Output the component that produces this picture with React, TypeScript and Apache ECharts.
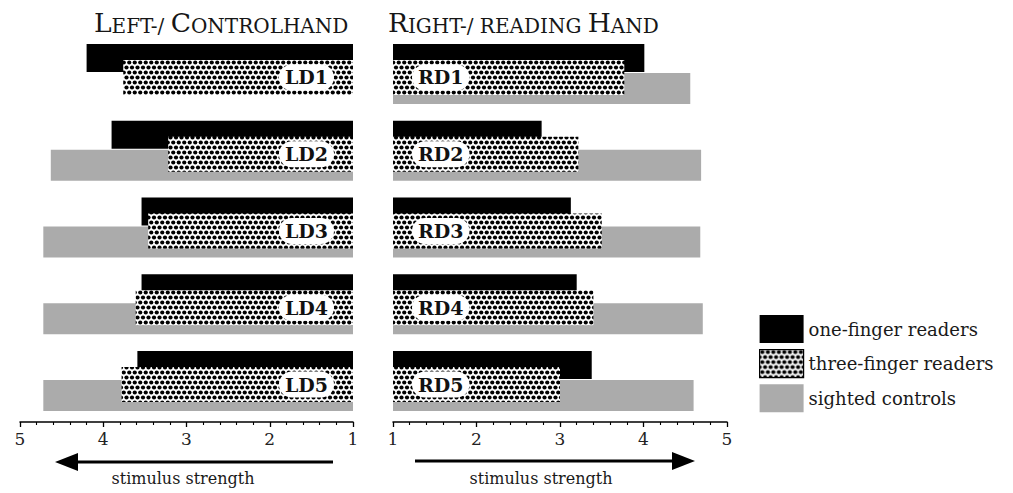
import React, { useEffect, useRef } from "react";
import * as echarts from "echarts";

// ---- data ----
const rows = ["1", "2", "3", "4", "5"];
const leftLabels = ["LD1", "LD2", "LD3", "LD4", "LD5"];
const rightLabels = ["RD1", "RD2", "RD3", "RD4", "RD5"];
const seriesNames = ["one-finger readers", "three-finger readers", "sighted controls"];

const leftOneFinger = [4.2, 3.9, 3.54, 3.54, 3.59];
const leftThreeFinger = [3.76, 3.22, 3.46, 3.61, 3.78];
const leftSighted: (number | string)[] = ["-", 4.63, 4.72, 4.72, 4.72];

const rightOneFinger = [4.01, 2.78, 3.13, 3.2, 3.38];
const rightThreeFinger = [3.77, 3.22, 3.5, 3.4, 3.0];
const rightSighted = [4.56, 4.69, 4.68, 4.71, 4.6];

const axisMin = 1;
const axisMax = 5;
const axisInterval = 1;

const FONT = "DejaVu Serif";

const dotSvg =
  '<svg xmlns="http://www.w3.org/2000/svg" width="11" height="10">' +
  '<rect width="11" height="10" fill="#fff"/>' +
  '<g fill="#000">' +
  '<circle cx="2.75" cy="2.5" r="2.1"/><circle cx="8.25" cy="2.5" r="2.1"/>' +
  '<circle cx="0" cy="7.5" r="2.1"/><circle cx="5.5" cy="7.5" r="2.1"/><circle cx="11" cy="7.5" r="2.1"/>' +
  "</g></svg>";

const dotPattern: any = {
  image: "data:image/svg+xml;charset=utf-8," + encodeURIComponent(dotSvg),
  repeat: "repeat",
  imageWidth: 11,
  imageHeight: 10,
};

const BLACK = "#000000";
const GRAY = "#ababab";

export default function App() {
  const ref = useRef<HTMLDivElement>(null);

  useEffect(() => {
    if (!ref.current) return;
    const chart = echarts.init(ref.current, undefined, { renderer: "svg" });

    const gridH = 383.8;
    const mainTop = 35.6;
    const patTop = 39.1;

    const visibleXAxis = (gridIndex: number) => ({
      type: "value",
      gridIndex,
      min: axisMin,
      max: axisMax,
      interval: axisInterval,
      startValue: axisMin,
      inverse: gridIndex === 0,
      offset: 2.6,
      axisLine: { show: true, lineStyle: { color: "#000", width: 1.5 } },
      axisTick: { show: true, length: 5, lineStyle: { color: "#000", width: 1.3 } },
      minorTick: { show: true, splitNumber: 5, length: 3, lineStyle: { color: "#000", width: 1.1 } },
      splitLine: { show: false },
      minorSplitLine: { show: false },
      axisLabel: {
        show: true,
        fontFamily: FONT,
        fontSize: 17,
        color: "#222",
        margin: 8,
        showMinLabel: true,
        showMaxLabel: true,
      },
    });

    const hiddenXAxis = (gridIndex: number, inverse: boolean) => ({
      type: "value",
      gridIndex,
      min: axisMin,
      max: axisMax,
      interval: axisInterval,
      startValue: axisMin,
      inverse,
      show: false,
    });

    const yAxis = (gridIndex: number) => ({
      type: "category",
      gridIndex,
      data: rows,
      inverse: true,
      show: false,
    });

    const labelStyle = {
      show: true,
      fontFamily: FONT,
      fontWeight: "bold",
      fontSize: 19,
      color: "#111",
      backgroundColor: "#fff",
      borderRadius: 15,
      padding: [4, 6, 3, 6],
    };

    const titleRich = {
      b: { fontFamily: FONT, fontSize: 26.5, fontWeight: "normal", color: "#161616", verticalAlign: "bottom" },
      s: { fontFamily: FONT, fontSize: 20, fontWeight: "normal", color: "#161616", verticalAlign: "bottom" },
    };

    const option: any = {
      animation: false,
      backgroundColor: "#fff",
      title: [
        {
          left: 89,
          top: 4,
          text: "{b|L}{s|EFT-/ }{b|C}{s|ONTROLHAND}",
          textStyle: { fontWeight: "normal", rich: titleRich },
        },
        {
          left: 383,
          top: 4,
          text: "{b|R}{s|IGHT-/ READING }{b|H}{s|AND}",
          textStyle: { fontWeight: "normal", rich: titleRich },
        },
      ],
      legend: {
        orient: "vertical",
        left: 754,
        top: 310,
        itemWidth: 44,
        itemHeight: 28,
        itemGap: 6,
        icon: "rect",
        selectedMode: false,
        textStyle: { fontFamily: FONT, fontSize: 18, color: "#1a1a1a" },
        data: [
          { name: seriesNames[0] },
          { name: seriesNames[1], itemStyle: { borderColor: "#000", borderWidth: 1.2 } },
          { name: seriesNames[2] },
        ],
      },
      grid: [
        { left: 20, width: 333, top: mainTop, height: gridH },
        { left: 20, width: 333, top: patTop, height: gridH },
        { left: 393, width: 334, top: mainTop, height: gridH },
        { left: 393, width: 334, top: patTop, height: gridH },
      ],
      xAxis: [
        visibleXAxis(0),
        hiddenXAxis(1, true),
        { ...visibleXAxis(2), inverse: false },
        hiddenXAxis(3, false),
      ],
      yAxis: [yAxis(0), yAxis(1), yAxis(2), yAxis(3)],
      series: [
        // left panel
        {
          name: seriesNames[0],
          type: "bar",
          xAxisIndex: 0,
          yAxisIndex: 0,
          data: leftOneFinger,
          barWidth: 28,
          barGap: "3.6%",
          itemStyle: { color: BLACK },
          z: 2,
        },
        {
          name: seriesNames[2],
          type: "bar",
          xAxisIndex: 0,
          yAxisIndex: 0,
          data: leftSighted,
          barWidth: 31,
          barGap: "3.6%",
          itemStyle: { color: GRAY },
          z: 2,
        },
        {
          name: seriesNames[1],
          type: "bar",
          xAxisIndex: 1,
          yAxisIndex: 1,
          data: leftThreeFinger,
          barWidth: 35,
          itemStyle: { color: dotPattern },
          z: 3,
          label: {
            ...labelStyle,
            position: "insideRight",
            distance: 19,
            formatter: (p: any) => leftLabels[p.dataIndex],
          },
        },
        // right panel
        {
          name: seriesNames[0],
          type: "bar",
          xAxisIndex: 2,
          yAxisIndex: 2,
          data: rightOneFinger,
          barWidth: 28,
          barGap: "3.6%",
          itemStyle: { color: BLACK },
          z: 2,
        },
        {
          name: seriesNames[2],
          type: "bar",
          xAxisIndex: 2,
          yAxisIndex: 2,
          data: rightSighted,
          barWidth: 31,
          barGap: "3.6%",
          itemStyle: { color: GRAY },
          z: 2,
        },
        {
          name: seriesNames[1],
          type: "bar",
          xAxisIndex: 3,
          yAxisIndex: 3,
          data: rightThreeFinger,
          barWidth: 35,
          itemStyle: { color: dotPattern },
          z: 3,
          label: {
            ...labelStyle,
            position: "insideLeft",
            distance: 19,
            formatter: (p: any) => rightLabels[p.dataIndex],
          },
        },
      ],
      graphic: [
        // left arrow
        {
          type: "line",
          shape: { x1: 333, y1: 462, x2: 72, y2: 462 },
          style: { stroke: "#000", lineWidth: 3 },
        },
        {
          type: "polygon",
          shape: { points: [[55, 462], [78, 453], [78, 471]] },
          style: { fill: "#000" },
        },
        {
          type: "text",
          x: 183,
          y: 478,
          style: {
            text: "stimulus strength",
            font: `16px "${FONT}"`,
            fill: "#1a1a1a",
            align: "center",
            verticalAlign: "middle",
          },
        },
        // right arrow
        {
          type: "line",
          shape: { x1: 415, y1: 461, x2: 678, y2: 461 },
          style: { stroke: "#000", lineWidth: 3 },
        },
        {
          type: "polygon",
          shape: { points: [[695, 461], [672, 452], [672, 470]] },
          style: { fill: "#000" },
        },
        {
          type: "text",
          x: 541,
          y: 478,
          style: {
            text: "stimulus strength",
            font: `16px "${FONT}"`,
            fill: "#1a1a1a",
            align: "center",
            verticalAlign: "middle",
          },
        },
      ],
    };

    chart.setOption(option);
    return () => {
      chart.dispose();
    };
  }, []);

  return (
    <div
      ref={ref}
      style={{ position: "absolute", left: 0, top: 0, width: 1013, height: 493 }}
    />
  );
}
